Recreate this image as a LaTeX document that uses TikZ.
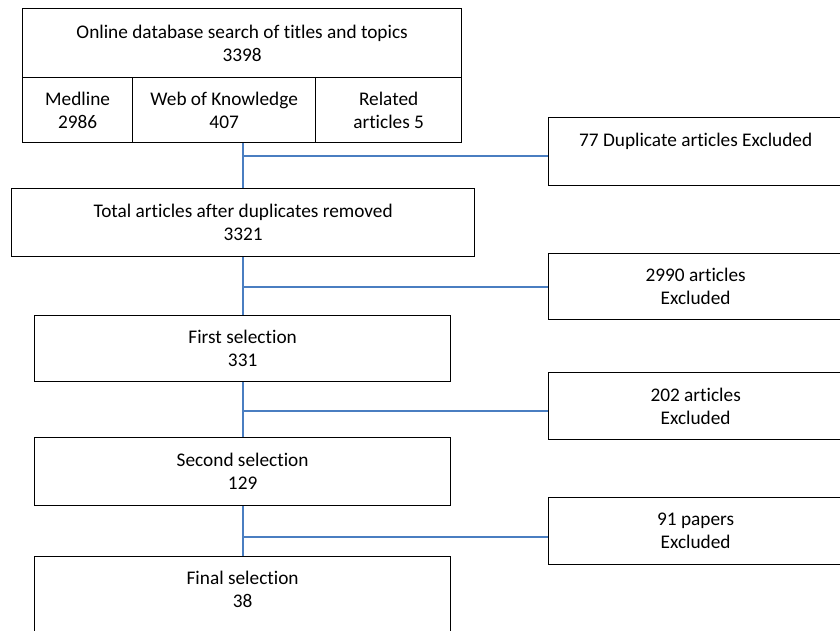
\documentclass[tikz,border=0pt]{standalone}
\usepackage{fontspec}
\setmainfont{Carlito}[Ligatures={NoCommon}]
\begin{document}
\begin{tikzpicture}[x=1pt,y=-1pt,
  box/.style={draw=black,line width=1.3pt,align=center,inner sep=0pt,anchor=north west,
    font=\fontsize{19.3}{23}\selectfont},
  conn/.style={draw={rgb,255:red,74;green,126;blue,193},line width=1.3pt}]
\useasboundingbox (0,0) rectangle (840,630);
\clip (0,0) rectangle (840,630);
\node[box,minimum width=439pt,minimum height=69pt] (head) at (22,8) {Online database search of titles and topics\\3398};
\node[box,minimum width=110pt,minimum height=65pt] (med) at (22,77) {Medline\\2986};
\node[box,minimum width=183pt,minimum height=65pt] (web) at (132,77) {Web of Knowledge\\407};
\node[box,minimum width=146pt,minimum height=65pt] (rel) at (315,77) {Related\\articles 5};
\node[box,minimum width=463pt,minimum height=68pt] (total) at (11,188) {Total articles after duplicates removed\\3321};
\node[box,minimum width=416pt,minimum height=66pt] (first) at (34,315) {First selection\\331};
\node[box,minimum width=416pt,minimum height=68pt] (second) at (34,437) {Second selection\\129};
\node[box,minimum width=416pt,minimum height=111pt] (final) at (34,556) {Final selection\\38\\\mbox{}\\\mbox{}};
\node[box,minimum width=294pt,minimum height=68pt] (ex1) at (548,117) {77 Duplicate articles Excluded\\\mbox{}};
\node[box,minimum width=294pt,minimum height=66pt] (ex2) at (548,253) {2990 articles\\Excluded};
\node[box,minimum width=294pt,minimum height=67pt] (ex3) at (548,372) {202 articles\\Excluded};
\node[box,minimum width=294pt,minimum height=67pt] (ex4) at (548,497) {91 papers\\Excluded};
\coordinate (b1) at (243,156);
\coordinate (b2) at (243,287);
\coordinate (b3) at (243,411);
\coordinate (b4) at (243,537);
\draw[conn] (b1 |- web.south) -- (b1 |- total.north);
\draw[conn] (b2 |- total.south) -- (b2 |- first.north);
\draw[conn] (b3 |- first.south) -- (b3 |- second.north);
\draw[conn] (b4 |- second.south) -- (b4 |- final.north);
\draw[conn] (b1) -- (ex1.west |- b1);
\draw[conn] (b2) -- (ex2.west |- b2);
\draw[conn] (b3) -- (ex3.west |- b3);
\draw[conn] (b4) -- (ex4.west |- b4);
\end{tikzpicture}
\end{document}
